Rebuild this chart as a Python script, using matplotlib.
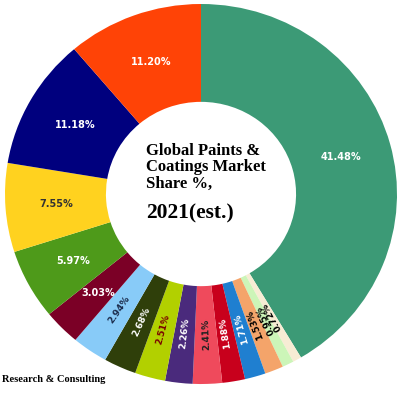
import numpy as np
import matplotlib.pyplot as plt

shares = [41.48, 0.72, 0.95, 1.53, 1.71, 1.88, 2.41, 2.26, 2.51, 2.68, 2.94, 3.03, 5.97, 7.55, 11.18, 11.20]
labels = ["41.48%", "0.72%", "0.95%", "1.53%", "1.71%", "1.88%", "2.41%", "2.26%", "2.51%", "2.68%",
          "2.94%", "3.03%", "5.97%", "7.55%", "11.18%", "11.20%"]
colors = ["#3c9a76", "#f7ecd4", "#ccf5b8", "#f4a46a", "#1f7fd0", "#c8001c", "#ef4a5c", "#4a2a7c",
          "#b2d000", "#2f3f0a", "#88cbf8", "#7b0026", "#4e9a1a", "#ffd21f", "#00007e", "#ff4306"]
text_colors = ["white", "black", "black", "black", "white", "white", "#222222", "white",
               "#7a0000", "white", "#1a2a4a", "white", "white", "#333333", "white", "white"]

fig = plt.figure(figsize=(4, 4), dpi=100)
ax = fig.add_axes([0.0, 0.0, 1.0, 1.0])
wedges, _ = ax.pie(shares, colors=colors, startangle=90, counterclock=False,
                   radius=1.0, wedgeprops=dict(width=0.515, linewidth=0))
RX, RY = 196.0, 190.0
ax.set_xlim(-201 / RX, 199 / RX)
ax.set_ylim(-206 / RY, 194 / RY)
ax.set_aspect('auto')

for w, lab, tc, v in zip(wedges, labels, text_colors, shares):
    ang = (w.theta1 + w.theta2) / 2
    r = 0.74
    x, y = r * np.cos(np.radians(ang)), r * np.sin(np.radians(ang))
    rot = 0
    fs = 7
    if v < 3:
        rot = ang + 180
        fs = 6.5
    ax.text(x, y, lab, ha='center', va='center', color=tc, fontsize=fs,
            fontweight='bold', rotation=rot,
            rotation_mode='anchor', family='DejaVu Sans')

ax.text(-0.28, 0.14, "Global Paints &\nCoatings Market\nShare %,", ha='left', va='center',
        fontsize=12, fontweight='bold', family='Liberation Serif', linespacing=1.05)
ax.text(-0.28, -0.105, "2021(est.)", ha='left', va='center', fontsize=15.5,
        fontweight='bold', family='Liberation Serif')
fig.text(0.005, 0.045, "Research & Consulting", fontsize=7.5, fontweight='bold',
         family='Liberation Serif')
fig.savefig("out.png", dpi=100)
